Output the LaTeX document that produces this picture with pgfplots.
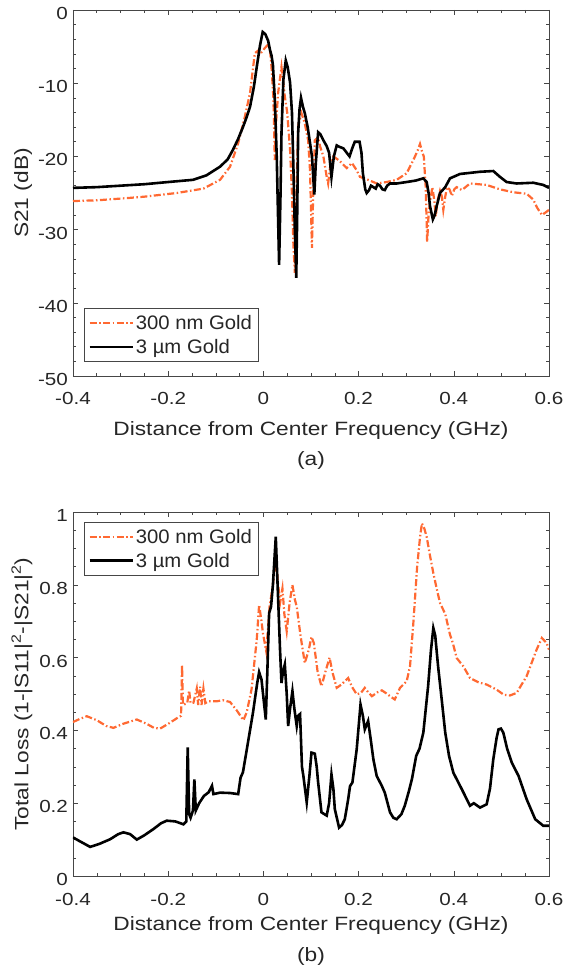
\documentclass[border=0pt]{standalone}
\usepackage{pgfplots}
\pgfplotsset{compat=1.18}
\usepackage{fontspec}
\setmainfont{Liberation Sans}[FakeStretch=1.18]
\newfontfamily\legfont{Liberation Sans}[FakeStretch=1.04]
\definecolor{org}{RGB}{255,105,50}
\definecolor{axc}{RGB}{70,70,70}
\definecolor{txc}{RGB}{38,38,38}
\pgfplotsset{
  myax/.style={
    scale only axis, width=476pt, clip mode=individual,
    xmin=-0.4, xmax=0.6,
    xtick={-0.4,-0.2,0,0.2,0.4,0.6},
    xticklabels={-0.4,-0.2,0,0.2,0.4,0.6},
    minor x tick num=3,
    tick align=inside,
    major tick length=5pt, minor tick length=3pt,
    axis line style={axc, line width=0.6pt},
    every tick/.style={axc, line width=0.6pt},
    tick label style={font=\fontsize{17.5}{20}\selectfont, text=txc},
    yticklabel style={yshift=-3.5pt, xshift=-1.5pt},
    label style={font=\fontsize{19.25}{22}\selectfont, text=txc},
    legend style={font=\legfont\fontsize{19.5}{22}\selectfont, draw=axc, line width=0.6pt, text=txc,
      inner xsep=4pt, inner ysep=5pt, row sep=4pt, cells={anchor=west}},
    legend image code/.code={\draw[#1] (0pt,0pt) -- (43pt,0pt);},
  },
  orgl/.style={org, line width=2.2pt, dash pattern=on 7pt off 2.5pt on 1.5pt off 2.5pt},
  blkl/.style={black, line width=2.6pt},
}
\begin{document}
\begin{tikzpicture}
\useasboundingbox (-73pt,10pt) rectangle (493pt,-969pt);
\begin{axis}[myax, at={(0pt,0pt)}, anchor=north west, height=366pt,
  ymin=-50, ymax=0, ytick={-50,-40,-30,-20,-10,0},
  yticklabels={-50,-40,-30,-20,-10,0}, minor y tick num=4,
  xticklabel style={anchor=center, yshift=-22pt},
  xlabel={Distance from Center Frequency (GHz)},
  ylabel={S21 (dB)},
  xlabel style={at={(axis description cs:0.5,-0.149)}, anchor=center},
  ylabel style={at={(axis description cs:-0.105,0.5)}, anchor=center},
  legend style={at={(axis description cs:0.0231,0.0383)}, anchor=south west},
]
\addplot[orgl] coordinates {
(-0.400,-26.1)(-0.35,-26.0)(-0.287,-25.7)(-0.25,-25.5)(-0.182,-25.0)(-0.126,-24.4)
(-0.091,-23.2)(-0.070,-21.4)(-0.053,-18.2)(-0.039,-14.6)(-0.028,-11.3)(-0.018,-5.9)
(-0.012,-5.6)(-0.008,-6.1)(0.003,-5.2)(0.010,-4.7)(0.014,-5.5)(0.017,-7.8)(0.021,-12)
(0.024,-20.5)(0.026,-16)(0.031,-11.3)(0.038,-7.8)(0.045,-11.8)(0.050,-14)(0.056,-19.1)
(0.060,-25)(0.063,-32)(0.066,-35.9)(0.069,-26)(0.073,-15.8)(0.080,-14.1)(0.087,-15.5)
(0.094,-17.8)(0.098,-22)(0.102,-32.5)(0.105,-24)(0.108,-17.8)(0.115,-17.4)(0.119,-18.6)
(0.126,-20)(0.133,-22.8)(0.136,-23.7)(0.141,-21)(0.147,-20.0)(0.160,-20.6)(0.175,-21.6)
(0.186,-20.9)(0.195,-21.8)(0.203,-22.8)(0.220,-23.2)(0.238,-23.7)(0.259,-23.5)(0.280,-23.2)
(0.301,-22.3)(0.315,-20.5)(0.324,-19.2)(0.329,-18.3)(0.334,-19.5)(0.337,-20.0)(0.341,-24.2)
(0.344,-31.7)(0.347,-28)(0.350,-26.2)(0.355,-24.2)(0.359,-26)(0.362,-28.2)(0.366,-26)
(0.371,-24.7)(0.375,-25.5)(0.378,-27.3)(0.382,-25.5)(0.386,-24.2)(0.391,-24.5)(0.396,-25.4)
(0.401,-24.5)(0.406,-24.2)(0.417,-24.6)(0.434,-23.7)(0.469,-23.9)(0.497,-24.5)(0.525,-24.9)
(0.553,-25.1)(0.567,-25.9)(0.575,-27)(0.585,-28.0)(0.592,-27.7)(0.600,-27.3)
};
\addlegendentry{300 nm Gold}
\addplot[blkl] coordinates {
(-0.400,-24.3)(-0.35,-24.2)(-0.30,-24.0)(-0.25,-23.8)(-0.20,-23.5)(-0.148,-23.2)(-0.12,-22.6)
(-0.091,-21.4)(-0.075,-20.4)(-0.064,-19.1)(-0.053,-17.6)(-0.043,-16.0)(-0.035,-14.6)
(-0.028,-13.2)(-0.020,-10.5)(-0.014,-7.8)(-0.007,-4.8)(-0.0015,-3.0)(0.004,-3.3)(0.010,-4.2)
(0.014,-5.5)(0.017,-6.2)(0.020,-7.5)(0.024,-12.3)(0.028,-20)(0.033,-34.8)(0.036,-25)
(0.038,-16.8)(0.042,-9.5)(0.047,-6.9)(0.051,-7.8)(0.056,-9.9)(0.060,-14)(0.063,-21.4)
(0.066,-30)(0.069,-36.6)(0.071,-28)(0.073,-16.8)(0.076,-13.5)(0.079,-12.0)(0.083,-13.2)
(0.087,-14.1)(0.093,-16)(0.098,-18.2)(0.102,-20)(0.107,-25.2)(0.110,-21)(0.115,-16.7)
(0.120,-17.0)(0.126,-17.8)(0.133,-18.6)(0.138,-19.5)(0.143,-22.8)(0.148,-20)(0.154,-18.5)
(0.160,-18.7)(0.168,-18.9)(0.175,-19.5)(0.181,-20.0)(0.186,-19)(0.192,-18.0)(0.202,-18.0)
(0.206,-19.5)(0.209,-22.3)(0.214,-24.5)(0.217,-25.0)(0.222,-24.6)(0.226,-24.0)(0.231,-24.2)
(0.236,-24.4)(0.240,-23.8)(0.245,-24.0)(0.250,-24.5)(0.255,-24.6)(0.260,-24.0)(0.266,-23.7)
(0.280,-23.7)(0.301,-23.5)(0.320,-23.3)(0.336,-23.0)(0.343,-23.5)(0.347,-25)(0.350,-26.8)
(0.356,-28.6)(0.360,-28)(0.364,-26.8)(0.371,-25.0)(0.382,-24.2)(0.392,-23.0)(0.413,-22.4)
(0.455,-22.1)(0.483,-22.0)(0.490,-22.4)(0.497,-22.8)(0.511,-23.5)(0.532,-23.7)(0.567,-23.6)
(0.588,-23.9)(0.600,-24.3)
};
\addlegendentry{3 µm Gold}
\node[font=\fontsize{19.25}{22}\selectfont, text=txc] at (rel axis cs:0.5,0) [yshift=-85pt] {(a)};
\end{axis}
\begin{axis}[myax, at={(0pt,-502pt)}, anchor=north west, height=364pt,
  ymin=0, ymax=1, ytick={0,0.2,0.4,0.6,0.8,1},
  yticklabels={0,0.2,0.4,0.6,0.8,1}, minor y tick num=3,
  xticklabel style={anchor=center, yshift=-23pt},
  xlabel={Distance from Center Frequency (GHz)},
  ylabel={Total Loss (1-|S11|\textsuperscript{2}-|S21|\textsuperscript{2})},
  xlabel style={at={(axis description cs:0.5,-0.137)}, anchor=center},
  ylabel style={at={(axis description cs:-0.107,0.5)}, anchor=center},
  legend style={at={(axis description cs:0.0231,0.9725)}, anchor=north west},
]
\addplot[orgl] coordinates {
(-0.400,0.423)(-0.385,0.432)(-0.371,0.439)(-0.350,0.428)(-0.330,0.412)(-0.315,0.407)
(-0.295,0.418)(-0.266,0.430)(-0.245,0.418)(-0.230,0.407)(-0.217,0.405)(-0.200,0.418)
(-0.180,0.435)(-0.173,0.44)(-0.171,0.581)(-0.169,0.47)(-0.160,0.475)(-0.156,0.51)
(-0.153,0.475)(-0.147,0.476)(-0.140,0.515)(-0.137,0.47)(-0.133,0.52)(-0.130,0.47)
(-0.126,0.515)(-0.122,0.475)(-0.115,0.48)(-0.098,0.480)(-0.085,0.483)(-0.070,0.478)
(-0.056,0.455)(-0.042,0.428)(-0.035,0.45)(-0.025,0.512)(-0.014,0.649)(-0.009,0.745)
(-0.004,0.70)(-0.001,0.667)(0.006,0.617)(0.013,0.74)(0.020,0.80)(0.026,0.87)(0.031,0.80)
(0.035,0.75)(0.040,0.79)(0.044,0.72)(0.049,0.672)(0.055,0.75)(0.061,0.80)(0.066,0.76)
(0.070,0.74)(0.078,0.66)(0.087,0.585)(0.095,0.62)(0.101,0.657)(0.106,0.64)(0.114,0.56)
(0.122,0.521)(0.130,0.56)(0.139,0.600)(0.145,0.56)(0.154,0.517)(0.164,0.526)(0.178,0.544)
(0.186,0.52)(0.196,0.499)(0.205,0.503)(0.213,0.517)(0.220,0.505)(0.228,0.494)(0.240,0.505)
(0.249,0.510)(0.258,0.502)(0.266,0.494)(0.276,0.485)(0.287,0.517)(0.301,0.535)(0.308,0.576)
(0.315,0.695)(0.323,0.850)(0.329,0.93)(0.333,0.969)(0.338,0.955)(0.343,0.932)(0.350,0.88)
(0.357,0.832)(0.364,0.79)(0.371,0.750)(0.382,0.720)(0.392,0.663)(0.398,0.64)(0.406,0.599)
(0.420,0.576)(0.434,0.544)(0.452,0.532)(0.469,0.526)(0.490,0.512)(0.505,0.498)(0.518,0.496)
(0.532,0.503)(0.553,0.549)(0.574,0.622)(0.585,0.654)(0.595,0.64)(0.600,0.622)
};
\addlegendentry{300 nm Gold}
\addplot[blkl] coordinates {
(-0.400,0.106)(-0.385,0.095)(-0.364,0.080)(-0.345,0.088)(-0.322,0.101)(-0.305,0.115)
(-0.294,0.120)(-0.280,0.115)(-0.266,0.100)(-0.250,0.112)(-0.231,0.129)(-0.215,0.145)
(-0.203,0.152)(-0.185,0.150)(-0.168,0.142)(-0.162,0.150)(-0.159,0.353)(-0.156,0.17)
(-0.153,0.160)(-0.148,0.18)(-0.145,0.265)(-0.142,0.18)(-0.135,0.20)(-0.125,0.22)
(-0.115,0.23)(-0.108,0.248)(-0.105,0.225)(-0.091,0.229)(-0.070,0.228)(-0.053,0.225)
(-0.048,0.27)(-0.043,0.285)(-0.036,0.339)(-0.022,0.448)(-0.013,0.53)(-0.009,0.560)
(-0.004,0.54)(-0.001,0.503)(0.005,0.430)(0.008,0.55)(0.012,0.722)(0.016,0.74)(0.020,0.800)
(0.026,0.932)(0.031,0.759)(0.035,0.62)(0.038,0.530)(0.041,0.56)(0.045,0.581)(0.049,0.50)
(0.052,0.412)(0.056,0.46)(0.061,0.508)(0.065,0.46)(0.070,0.412)(0.073,0.44)(0.077,0.445)
(0.081,0.30)(0.084,0.275)(0.091,0.202)(0.097,0.28)(0.101,0.339)(0.108,0.336)(0.112,0.30)
(0.115,0.257)(0.122,0.175)(0.128,0.17)(0.133,0.166)(0.138,0.20)(0.143,0.279)(0.147,0.24)
(0.150,0.184)(0.159,0.133)(0.165,0.14)(0.171,0.156)(0.178,0.21)(0.182,0.247)(0.187,0.257)
(0.196,0.348)(0.204,0.471)(0.209,0.44)(0.213,0.403)(0.220,0.426)(0.226,0.37)(0.231,0.321)
(0.238,0.275)(0.249,0.247)(0.255,0.229)(0.266,0.175)(0.273,0.16)(0.280,0.156)(0.290,0.17)
(0.297,0.193)(0.305,0.23)(0.312,0.266)(0.321,0.330)(0.328,0.35)(0.336,0.394)(0.346,0.521)
(0.352,0.62)(0.357,0.681)(0.361,0.66)(0.367,0.576)(0.375,0.48)(0.382,0.394)(0.390,0.33)(0.399,0.284)
(0.417,0.238)(0.434,0.193)(0.442,0.20)(0.455,0.188)(0.469,0.197)(0.476,0.24)(0.483,0.321)
(0.490,0.38)(0.494,0.403)(0.499,0.405)(0.504,0.394)(0.512,0.35)(0.522,0.311)(0.536,0.275)(0.553,0.211)
(0.571,0.156)(0.588,0.138)(0.600,0.138)
};
\addlegendentry{3 µm Gold}
\node[font=\fontsize{19.25}{22}\selectfont, text=txc] at (rel axis cs:0.5,0) [yshift=-80.5pt] {(b)};
\end{axis}
\end{tikzpicture}
\end{document}
